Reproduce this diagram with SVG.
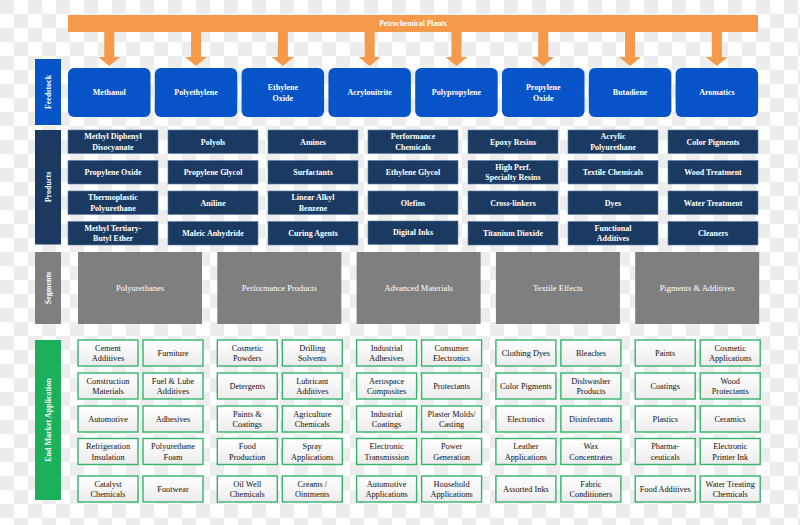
<svg xmlns="http://www.w3.org/2000/svg" width="800" height="525" viewBox="0 0 800 525">
<defs>
<pattern id="chk" width="28" height="28" patternUnits="userSpaceOnUse"><rect width="28" height="28" fill="#ffffff"/><rect width="14" height="14" fill="#ededed"/><rect x="14" y="14" width="14" height="14" fill="#ededed"/></pattern>
<linearGradient id="eg" x1="0" y1="0" x2="0" y2="1"><stop offset="0" stop-color="#ffffff"/><stop offset="1" stop-color="#ececec"/></linearGradient>
</defs>
<style>
text{font-family:"Liberation Serif","DejaVu Serif",serif;text-anchor:middle}
.fb{fill:#0654C8}
.ft{fill:#fff;font-size:8px;font-weight:bold}
.pb{fill:#1B3A62;stroke:#5f7fa8;stroke-width:0.6}
.pt{fill:#fff;font-size:8px;font-weight:bold}
.sb{fill:#7F7F7F}
.st{fill:#fff;font-size:8.5px}
.eb{fill:url(#eg);stroke:#35B46C;stroke-width:1.4}
.et{fill:#111;font-size:8.3px}
.lt{fill:#fff;font-size:8px;font-weight:bold}
.ar{fill:#F5994A}
</style>
<rect width="800" height="525" fill="url(#chk)"/>

<g id="petrochemical-plants">
<rect x="68" y="15" width="690" height="17" class="ar"/>
<text x="413" y="26" class="ft" style="font-size:7.5px">Petrochemical Plants</text>
</g>

<g id="connectors">
<path class="ar" d="M104.25 32h10v25h6l-11 9l-11-9h6z"/>
<path class="ar" d="M191.05 32h10v25h6l-11 9l-11-9h6z"/>
<path class="ar" d="M277.85 32h10v25h6l-11 9l-11-9h6z"/>
<path class="ar" d="M364.65 32h10v25h6l-11 9l-11-9h6z"/>
<path class="ar" d="M451.45 32h10v25h6l-11 9l-11-9h6z"/>
<path class="ar" d="M538.25 32h10v25h6l-11 9l-11-9h6z"/>
<path class="ar" d="M625.05 32h10v25h6l-11 9l-11-9h6z"/>
<path class="ar" d="M711.85 32h10v25h6l-11 9l-11-9h6z"/>
</g>

<!-- Side labels -->
<g id="label-feedstock"><rect x="35" y="59" width="26" height="66" class="fb"/><text class="lt" transform="translate(51,92) rotate(-90)">Feedstock</text></g>
<g id="label-products"><rect x="35" y="130" width="26" height="114.5" fill="#1B3A62"/><text class="lt" transform="translate(51,187) rotate(-90)">Products</text></g>
<g id="label-segments"><rect x="35" y="252" width="26" height="72" class="sb"/><text class="lt" transform="translate(51,288) rotate(-90)">Segments</text></g>
<g id="label-end-market"><rect x="35" y="340" width="26" height="160" fill="#1DB05A"/><text class="lt" transform="translate(51,420) rotate(-90)">End Market Application</text></g>

<!-- Feedstock -->
<g id="fs-methanol"><rect x="68" y="68" width="82.5" height="49" rx="6" class="fb"/><text x="109.25" y="95.3" class="ft">Methanol</text></g>
<g id="fs-polyethylene"><rect x="154.8" y="68" width="82.5" height="49" rx="6" class="fb"/><text x="196.05" y="95.3" class="ft">Polyethylene</text></g>
<g id="fs-ethylene-oxide"><rect x="241.6" y="68" width="82.5" height="49" rx="6" class="fb"/><text x="282.85" y="90.1" class="ft">Ethylene<tspan x="282.85" dy="10.5">Oxide</tspan></text></g>
<g id="fs-acrylonitrite"><rect x="328.4" y="68" width="82.5" height="49" rx="6" class="fb"/><text x="369.65" y="95.3" class="ft">Acrylonitrite</text></g>
<g id="fs-polypropylene"><rect x="415.2" y="68" width="82.5" height="49" rx="6" class="fb"/><text x="456.45" y="95.3" class="ft">Polypropylene</text></g>
<g id="fs-propylene-oxide"><rect x="502" y="68" width="82.5" height="49" rx="6" class="fb"/><text x="543.25" y="90.1" class="ft">Propylene<tspan x="543.25" dy="10.5">Oxide</tspan></text></g>
<g id="fs-butadiene"><rect x="588.8" y="68" width="82.5" height="49" rx="6" class="fb"/><text x="630.05" y="95.3" class="ft">Butadiene</text></g>
<g id="fs-aromatics"><rect x="675.6" y="68" width="82.5" height="49" rx="6" class="fb"/><text x="716.85" y="95.3" class="ft">Aromatics</text></g>

<!-- Products -->
<g id="p-mdi"><rect x="68" y="130" width="90" height="23.5" class="pb"/><text x="113" y="139.4" class="pt">Methyl Diphenyl<tspan x="113" dy="10.5">Disocyanate</tspan></text></g>
<g id="p-propylene-oxide"><rect x="68" y="160.5" width="90" height="23.5" class="pb"/><text x="113" y="175.1" class="pt">Propylene Oxide</text></g>
<g id="p-tpu"><rect x="68" y="191" width="90" height="23.5" class="pb"/><text x="113" y="200.4" class="pt">Thermoplastic<tspan x="113" dy="10.5">Polyurethane</tspan></text></g>
<g id="p-mtbe"><rect x="68" y="221.5" width="90" height="23.5" class="pb"/><text x="113" y="230.9" class="pt">Methyl Tertiary-<tspan x="113" dy="10.5">Butyl Ether</tspan></text></g>

<g id="p-polyols"><rect x="168" y="130" width="90" height="23.5" class="pb"/><text x="213" y="144.6" class="pt">Polyols</text></g>
<g id="p-propylene-glycol"><rect x="168" y="160.5" width="90" height="23.5" class="pb"/><text x="213" y="175.1" class="pt">Propylene Glycol</text></g>
<g id="p-aniline"><rect x="168" y="191" width="90" height="23.5" class="pb"/><text x="213" y="205.6" class="pt">Aniline</text></g>
<g id="p-maleic"><rect x="168" y="221.5" width="90" height="23.5" class="pb"/><text x="213" y="236.1" class="pt">Maleic Anhydride</text></g>

<g id="p-amines"><rect x="268" y="130" width="90" height="23.5" class="pb"/><text x="313" y="144.6" class="pt">Amines</text></g>
<g id="p-surfactants"><rect x="268" y="160.5" width="90" height="23.5" class="pb"/><text x="313" y="175.1" class="pt">Surfactants</text></g>
<g id="p-lab"><rect x="268" y="191" width="90" height="23.5" class="pb"/><text x="313" y="200.4" class="pt">Linear Alkyl<tspan x="313" dy="10.5">Benzene</tspan></text></g>
<g id="p-curing"><rect x="268" y="221.5" width="90" height="23.5" class="pb"/><text x="313" y="236.1" class="pt">Curing Agents</text></g>

<g id="p-performance"><rect x="368" y="130" width="90" height="23.5" class="pb"/><text x="413" y="139.4" class="pt">Performance<tspan x="413" dy="10.5">Chemicals</tspan></text></g>
<g id="p-ethylene-glycol"><rect x="368" y="160.5" width="90" height="23.5" class="pb"/><text x="413" y="175.1" class="pt">Ethylene Glycol</text></g>
<g id="p-olefins"><rect x="368" y="191" width="90" height="23.5" class="pb"/><text x="413" y="205.6" class="pt">Olefins</text></g>
<g id="p-digital-inks"><rect x="368" y="221" width="90" height="23.5" class="pb"/><text x="413" y="234.6" class="pt">Digital Inks</text></g>

<g id="p-epoxy"><rect x="468" y="130" width="90" height="23.5" class="pb"/><text x="513" y="144.6" class="pt">Epoxy Resins</text></g>
<g id="p-hpsr"><rect x="468" y="160.5" width="90" height="23.5" class="pb"/><text x="513" y="169.9" class="pt">High Perf.<tspan x="513" dy="10.5">Specialty Resins</tspan></text></g>
<g id="p-crosslinkers"><rect x="468" y="191" width="90" height="23.5" class="pb"/><text x="513" y="205.6" class="pt">Cross-linkers</text></g>
<g id="p-tio2"><rect x="468" y="221.5" width="90" height="23.5" class="pb"/><text x="513" y="236.1" class="pt">Titanium Dioxide</text></g>

<g id="p-acrylic"><rect x="568" y="130" width="90" height="23.5" class="pb"/><text x="613" y="139.4" class="pt">Acrylic<tspan x="613" dy="10.5">Polyurethane</tspan></text></g>
<g id="p-textile"><rect x="568" y="160.5" width="90" height="23.5" class="pb"/><text x="613" y="175.1" class="pt">Textile Chemicals</text></g>
<g id="p-dyes"><rect x="568" y="191" width="90" height="23.5" class="pb"/><text x="613" y="205.6" class="pt">Dyes</text></g>
<g id="p-functional"><rect x="568" y="221.5" width="90" height="23.5" class="pb"/><text x="613" y="230.9" class="pt">Functional<tspan x="613" dy="10.5">Additives</tspan></text></g>

<g id="p-color-pigments"><rect x="668" y="130" width="90" height="23.5" class="pb"/><text x="713" y="144.6" class="pt">Color Pigments</text></g>
<g id="p-wood"><rect x="668" y="160.5" width="90" height="23.5" class="pb"/><text x="713" y="175.1" class="pt">Wood Treatment</text></g>
<g id="p-water"><rect x="668" y="191" width="90" height="23.5" class="pb"/><text x="713" y="205.6" class="pt">Water Treatment</text></g>
<g id="p-cleaners"><rect x="668" y="221.5" width="90" height="23.5" class="pb"/><text x="713" y="236.1" class="pt">Cleaners</text></g>

<!-- Segments -->
<g id="s-polyurethanes"><rect x="78" y="252" width="124" height="72" class="sb"/><text x="140" y="291" class="st">Polyurethanes</text></g>
<g id="s-performance"><rect x="217.3" y="252" width="124" height="72" class="sb"/><text x="279.3" y="291" class="st">Performance Products</text></g>
<g id="s-advanced"><rect x="356.6" y="252" width="124" height="72" class="sb"/><text x="418.6" y="291" class="st">Advanced Materials</text></g>
<g id="s-textile"><rect x="495.9" y="252" width="124" height="72" class="sb"/><text x="557.9" y="291" class="st">Textile Effects</text></g>
<g id="s-pigments"><rect x="635.2" y="252" width="124" height="72" class="sb"/><text x="697.2" y="291" class="st">Pigments &amp; Additives</text></g>

<!-- End market: group 1 -->
<g id="e-cement"><rect x="78" y="340" width="60" height="26" class="eb"/><text x="108" y="350.75" class="et">Cement<tspan x="108" dy="10.5">Additives</tspan></text></g>
<g id="e-construction"><rect x="78" y="373" width="60" height="26" class="eb"/><text x="108" y="383.75" class="et">Construction<tspan x="108" dy="10.5">Materials</tspan></text></g>
<g id="e-automotive"><rect x="78" y="406" width="60" height="26" class="eb"/><text x="108" y="422" class="et">Automotive</text></g>
<g id="e-refrigeration"><rect x="78" y="438.5" width="60" height="26" class="eb"/><text x="108" y="449.25" class="et">Refrigeration<tspan x="108" dy="10.5">Insulation</tspan></text></g>
<g id="e-catalyst"><rect x="78" y="476" width="60" height="26" class="eb"/><text x="108" y="486.75" class="et">Catalyst<tspan x="108" dy="10.5">Chemicals</tspan></text></g>

<g id="e-furniture"><rect x="143" y="340" width="60" height="26" class="eb"/><text x="173" y="356" class="et">Furniture</text></g>
<g id="e-fuel"><rect x="143" y="373" width="60" height="26" class="eb"/><text x="173" y="383.75" class="et">Fuel &amp; Lube<tspan x="173" dy="10.5">Additives</tspan></text></g>
<g id="e-adhesives"><rect x="143" y="406" width="60" height="26" class="eb"/><text x="173" y="422" class="et">Adhesives</text></g>
<g id="e-pu-foam"><rect x="143" y="438.5" width="60" height="26" class="eb"/><text x="173" y="449.25" class="et">Polyurethane<tspan x="173" dy="10.5">Foam</tspan></text></g>
<g id="e-footwear"><rect x="143" y="476" width="60" height="26" class="eb"/><text x="173" y="492" class="et">Footwear</text></g>

<!-- group 2 -->
<g id="e-cosmetic-powders"><rect x="217.3" y="340" width="60" height="26" class="eb"/><text x="247.3" y="350.75" class="et">Cosmetic<tspan x="247.3" dy="10.5">Powders</tspan></text></g>
<g id="e-detergents"><rect x="217.3" y="373" width="60" height="26" class="eb"/><text x="247.3" y="389" class="et">Detergents</text></g>
<g id="e-paints-coatings"><rect x="217.3" y="406" width="60" height="26" class="eb"/><text x="247.3" y="416.75" class="et">Paints &amp;<tspan x="247.3" dy="10.5">Coatings</tspan></text></g>
<g id="e-food-production"><rect x="217.3" y="438.5" width="60" height="26" class="eb"/><text x="247.3" y="449.25" class="et">Food<tspan x="247.3" dy="10.5">Production</tspan></text></g>
<g id="e-oil-well"><rect x="217.3" y="476" width="60" height="26" class="eb"/><text x="247.3" y="486.75" class="et">Oil Well<tspan x="247.3" dy="10.5">Chemicals</tspan></text></g>

<g id="e-drilling"><rect x="282.3" y="340" width="60" height="26" class="eb"/><text x="312.3" y="350.75" class="et">Drilling<tspan x="312.3" dy="10.5">Solvents</tspan></text></g>
<g id="e-lubricant"><rect x="282.3" y="373" width="60" height="26" class="eb"/><text x="312.3" y="383.75" class="et">Lubricant<tspan x="312.3" dy="10.5">Additives</tspan></text></g>
<g id="e-agriculture"><rect x="282.3" y="406" width="60" height="26" class="eb"/><text x="312.3" y="416.75" class="et">Agriculture<tspan x="312.3" dy="10.5">Chemicals</tspan></text></g>
<g id="e-spray"><rect x="282.3" y="438.5" width="60" height="26" class="eb"/><text x="312.3" y="449.25" class="et">Spray<tspan x="312.3" dy="10.5">Applications</tspan></text></g>
<g id="e-creams"><rect x="282.3" y="476" width="60" height="26" class="eb"/><text x="312.3" y="486.75" class="et">Creams /<tspan x="312.3" dy="10.5">Ointments</tspan></text></g>

<!-- group 3 -->
<g id="e-ind-adhesives"><rect x="356.6" y="340" width="60" height="26" class="eb"/><text x="386.6" y="350.75" class="et">Industrial<tspan x="386.6" dy="10.5">Adhesives</tspan></text></g>
<g id="e-aerospace"><rect x="356.6" y="373" width="60" height="26" class="eb"/><text x="386.6" y="383.75" class="et">Aerospace<tspan x="386.6" dy="10.5">Composites</tspan></text></g>
<g id="e-ind-coatings"><rect x="356.6" y="406" width="60" height="26" class="eb"/><text x="386.6" y="416.75" class="et">Industrial<tspan x="386.6" dy="10.5">Coatings</tspan></text></g>
<g id="e-elec-transmission"><rect x="356.6" y="438.5" width="60" height="26" class="eb"/><text x="386.6" y="449.25" class="et">Electronic<tspan x="386.6" dy="10.5">Transmission</tspan></text></g>
<g id="e-auto-apps"><rect x="356.6" y="476" width="60" height="26" class="eb"/><text x="386.6" y="486.75" class="et">Automotive<tspan x="386.6" dy="10.5">Applications</tspan></text></g>

<g id="e-consumer-elec"><rect x="421.6" y="340" width="60" height="26" class="eb"/><text x="451.6" y="350.75" class="et">Consumer<tspan x="451.6" dy="10.5">Electronics</tspan></text></g>
<g id="e-protectants"><rect x="421.6" y="373" width="60" height="26" class="eb"/><text x="451.6" y="389" class="et">Protectants</text></g>
<g id="e-plaster"><rect x="421.6" y="406" width="60" height="26" class="eb"/><text x="451.6" y="416.75" class="et">Plaster Molds/<tspan x="451.6" dy="10.5">Casting</tspan></text></g>
<g id="e-power"><rect x="421.6" y="438.5" width="60" height="26" class="eb"/><text x="451.6" y="449.25" class="et">Power<tspan x="451.6" dy="10.5">Generation</tspan></text></g>
<g id="e-household"><rect x="421.6" y="476" width="60" height="26" class="eb"/><text x="451.6" y="486.75" class="et">Household<tspan x="451.6" dy="10.5">Applications</tspan></text></g>

<!-- group 4 -->
<g id="e-clothing-dyes"><rect x="495.9" y="340" width="60" height="26" class="eb"/><text x="525.9" y="356" class="et">Clothing Dyes</text></g>
<g id="e-color-pigments"><rect x="495.9" y="373" width="60" height="26" class="eb"/><text x="525.9" y="389" class="et">Color Pigments</text></g>
<g id="e-electronics"><rect x="495.9" y="406" width="60" height="26" class="eb"/><text x="525.9" y="422" class="et">Electronics</text></g>
<g id="e-leather"><rect x="495.9" y="438.5" width="60" height="26" class="eb"/><text x="525.9" y="449.25" class="et">Leather<tspan x="525.9" dy="10.5">Applications</tspan></text></g>
<g id="e-inks"><rect x="495.9" y="476" width="60" height="26" class="eb"/><text x="525.9" y="492" class="et">Assorted Inks</text></g>

<g id="e-bleaches"><rect x="560.9" y="340" width="60" height="26" class="eb"/><text x="590.9" y="356" class="et">Bleaches</text></g>
<g id="e-dishwasher"><rect x="560.9" y="373" width="60" height="26" class="eb"/><text x="590.9" y="383.75" class="et">Dishwasher<tspan x="590.9" dy="10.5">Products</tspan></text></g>
<g id="e-disinfectants"><rect x="560.9" y="406" width="60" height="26" class="eb"/><text x="590.9" y="422" class="et">Disinfectants</text></g>
<g id="e-wax"><rect x="560.9" y="438.5" width="60" height="26" class="eb"/><text x="590.9" y="449.25" class="et">Wax<tspan x="590.9" dy="10.5">Concentrates</tspan></text></g>
<g id="e-fabric"><rect x="560.9" y="476" width="60" height="26" class="eb"/><text x="590.9" y="486.75" class="et">Fabric<tspan x="590.9" dy="10.5">Conditioners</tspan></text></g>

<!-- group 5 -->
<g id="e-paints"><rect x="635.2" y="340" width="60" height="26" class="eb"/><text x="665.2" y="356" class="et">Paints</text></g>
<g id="e-coatings"><rect x="635.2" y="373" width="60" height="26" class="eb"/><text x="665.2" y="389" class="et">Coatings</text></g>
<g id="e-plastics"><rect x="635.2" y="406" width="60" height="26" class="eb"/><text x="665.2" y="422" class="et">Plastics</text></g>
<g id="e-pharma"><rect x="635.2" y="438.5" width="60" height="26" class="eb"/><text x="665.2" y="449.25" class="et">Pharma-<tspan x="665.2" dy="10.5">ceuticals</tspan></text></g>
<g id="e-food-additives"><rect x="635.2" y="476" width="60" height="26" class="eb"/><text x="665.2" y="492" class="et">Food Additives</text></g>

<g id="e-cosmetic-apps"><rect x="700.2" y="340" width="60" height="26" class="eb"/><text x="730.2" y="350.75" class="et">Cosmetic<tspan x="730.2" dy="10.5">Applications</tspan></text></g>
<g id="e-wood-protectants"><rect x="700.2" y="373" width="60" height="26" class="eb"/><text x="730.2" y="383.75" class="et">Wood<tspan x="730.2" dy="10.5">Protectants</tspan></text></g>
<g id="e-ceramics"><rect x="700.2" y="406" width="60" height="26" class="eb"/><text x="730.2" y="422" class="et">Ceramics</text></g>
<g id="e-printer-ink"><rect x="700.2" y="438.5" width="60" height="26" class="eb"/><text x="730.2" y="449.25" class="et">Electronic<tspan x="730.2" dy="10.5">Printer Ink</tspan></text></g>
<g id="e-water-treating"><rect x="700.2" y="476" width="60" height="26" class="eb"/><text x="730.2" y="486.75" class="et">Water Treating<tspan x="730.2" dy="10.5">Chemicals</tspan></text></g>
</svg>
